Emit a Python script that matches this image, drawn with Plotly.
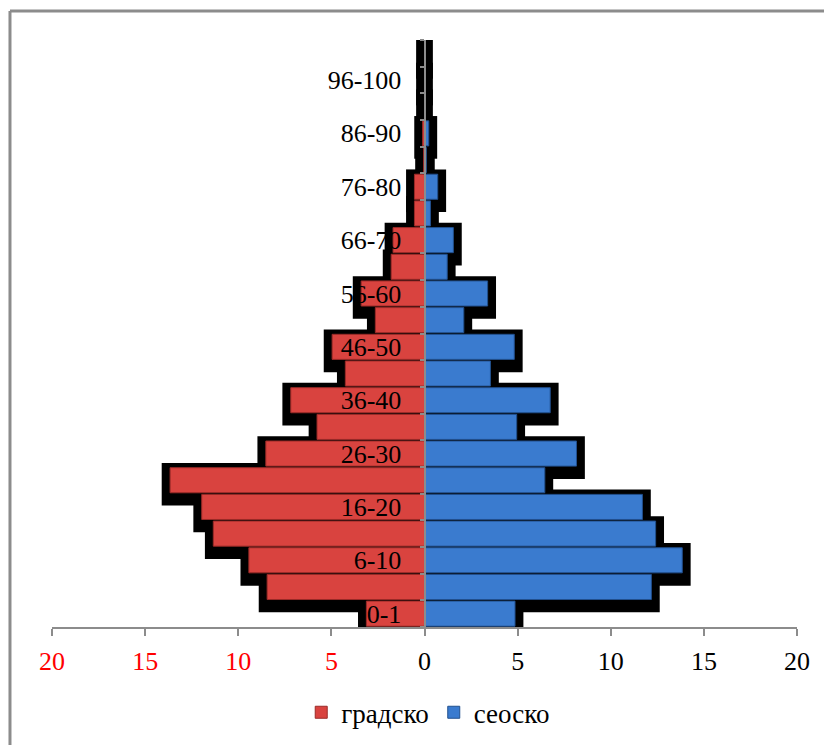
import plotly.graph_objects as go

# ---- data ----
categories = ['0-1', '2-5', '6-10', '11-15', '16-20', '21-25', '26-30', '31-35',
              '36-40', '41-45', '46-50', '51-55', '56-60', '61-65', '66-70',
              '71-75', '76-80', '81-85', '86-90', '91-95', '96-100', '>100']
urban = [3.12, 8.45, 9.43, 11.34, 11.96, 13.66, 8.52, 5.77, 7.18, 4.25, 4.96,
         2.64, 3.40, 1.79, 1.69, 0.54, 0.54, 0.05, 0.10, 0.0, 0.0, 0.0]   # градско
rural = [4.86, 12.18, 13.84, 12.41, 11.70, 6.46, 8.16, 4.95, 6.75, 3.54, 4.82,
         2.11, 3.39, 1.22, 1.55, 0.32, 0.71, 0.10, 0.23, 0.0, 0.0, 0.0]   # сеоско
series_names = ['градско', 'сеоско']
x_ticks = [-20, -15, -10, -5, 0, 5, 10, 15, 20]

FONT = 'Liberation Serif'
RED = '#d9433f'
BLUE = '#3a7bcf'
GLOW = 0.45  # shadow spread in axis units

shown = [c if i % 2 == 0 else '' for i, c in enumerate(categories)]
x_text = [f'<span style="color:#ff0000">{abs(v)}</span>' if v < 0 else str(v) for v in x_ticks]

fig = go.Figure()

# black shadow behind the bars
fig.add_trace(go.Bar(y=categories, x=[-(v + GLOW) for v in urban], orientation='h',
                     marker=dict(color='black', line=dict(width=0)),
                     width=1.6, offset=-0.95, showlegend=False, hoverinfo='skip'))
fig.add_trace(go.Bar(y=categories, x=[v + GLOW for v in rural], orientation='h',
                     marker=dict(color='black', line=dict(width=0)),
                     width=1.6, offset=-0.95, showlegend=False, hoverinfo='skip'))

# main bars
fig.add_trace(go.Bar(y=categories, x=[-v for v in urban], orientation='h',
                     name=series_names[0], width=0.94,
                     marker=dict(color=RED, line=dict(color='#9a2b28', width=1))))
fig.add_trace(go.Bar(y=categories, x=rural, orientation='h',
                     name=series_names[1], width=0.94,
                     marker=dict(color=BLUE, line=dict(color='#22508e', width=1))))

fig.update_layout(
    width=832, height=745,
    margin=dict(l=44, r=43, t=32, b=126),
    paper_bgcolor='white', plot_bgcolor='white',
    barmode='overlay',
    font=dict(family=FONT, size=25, color='black'),
    showlegend=True,
    legend=dict(orientation='h', x=0.505, xanchor='center', y=-0.146, yanchor='middle',
                font=dict(family=FONT, size=27, color='black'),
                itemwidth=30, traceorder='normal'),
    xaxis=dict(range=[-20, 20], tickmode='array', tickvals=x_ticks, ticktext=x_text,
               showline=True, linecolor='#8c8c8c', linewidth=2,
               ticks='outside', ticklen=7, tickcolor='#8c8c8c', tickwidth=2,
               ticklabelstandoff=3,
               showgrid=False, zeroline=False, fixedrange=True,
               tickfont=dict(family=FONT, size=26)),
    yaxis=dict(type='category', categoryorder='array', categoryarray=categories,
               range=[-0.5, len(categories) - 0.5],
               tickmode='array', tickvals=categories, ticktext=shown,
               tickson='boundaries', ticks='outside', ticklen=4,
               tickcolor='#8c8c8c', tickwidth=2,
               ticklabelstandoff=17,
               anchor='free', position=0.5,
               showline=True, linecolor='#8c8c8c', linewidth=2,
               showgrid=False, zeroline=False, fixedrange=True,
               tickfont=dict(family=FONT, size=26, color='black')),
    shapes=[
        dict(type='line', xref='paper', yref='paper', x0=-0.0564, x1=1.1, y0=1.0494, y1=1.0494,
             line=dict(color='#8c8c8c', width=3)),
        dict(type='line', xref='paper', yref='paper', x0=-0.0564, x1=-0.0564, y0=1.0494, y1=-0.25,
             line=dict(color='#8c8c8c', width=3)),
    ],
)

fig.write_html('out.html')
